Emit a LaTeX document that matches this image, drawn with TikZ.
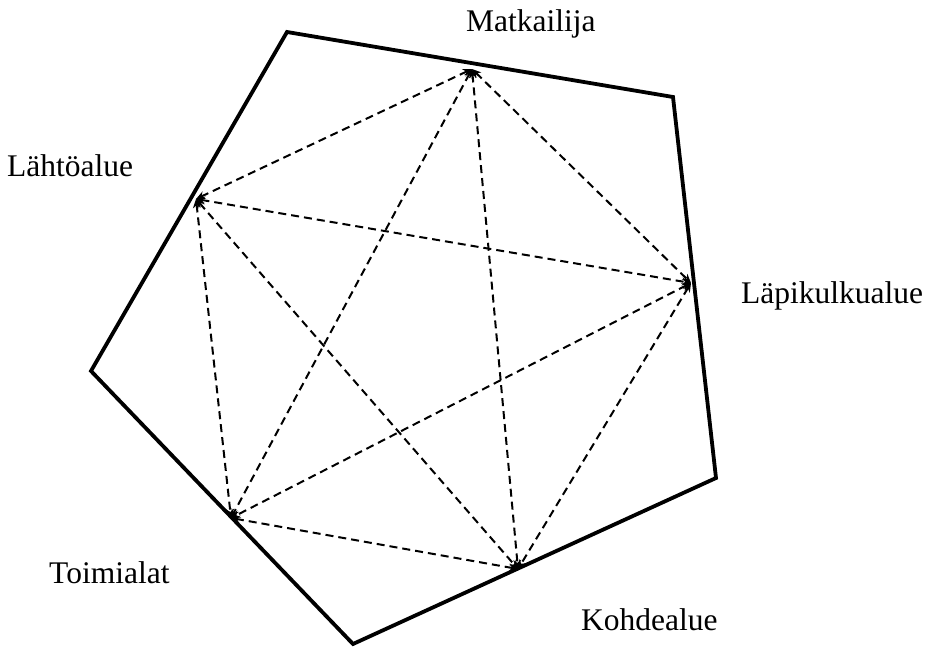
\documentclass[tikz,border=0pt]{standalone}
\usepackage{fontspec}
\setmainfont{Liberation Serif}
\usetikzlibrary{arrows.meta}
\begin{document}
\begin{tikzpicture}[x=1pt,y=-1pt,
  frame/.style={line width=3.8pt, line join=miter},
  link/.style={line width=2pt, dash pattern=on 8pt off 5pt, {Stealth[length=9pt,width=8pt]}-{Stealth[length=9pt,width=8pt]}},
  lbl/.style={font=\fontsize{31.5}{33}\selectfont, inner sep=0pt, anchor=base west}]
\useasboundingbox (0,0) rectangle (935,647);
\coordinate (p1) at (287,32);
\coordinate (p2) at (673,97);
\coordinate (p3) at (716,478);
\coordinate (p4) at (353,644);
\coordinate (p5) at (91,371);
\draw[frame] (p1) -- (p2) -- (p3) -- (p4) -- (p5) -- cycle;
\coordinate (m) at (472,69);
\coordinate (l) at (196,199);
\coordinate (p) at (691,283);
\coordinate (k) at (518,569);
\coordinate (t) at (231,518);
\foreach \a/\b in {m/l,m/p,m/k,m/t,l/p,l/k,l/t,p/k,p/t,k/t}{
  \draw[link] (\a) -- (\b);
}
\node[lbl] (nm) at (466,32) {Matkailija};
\node[lbl] (nl) at (7,177) {Lähtöalue};
\node[lbl] (np) at (741,304) {Läpikulkualue};
\node[lbl] (nt) at (49,583) {Toimialat};
\node[lbl] (nk) at (581,630) {Kohdealue};
\end{tikzpicture}
\end{document}
